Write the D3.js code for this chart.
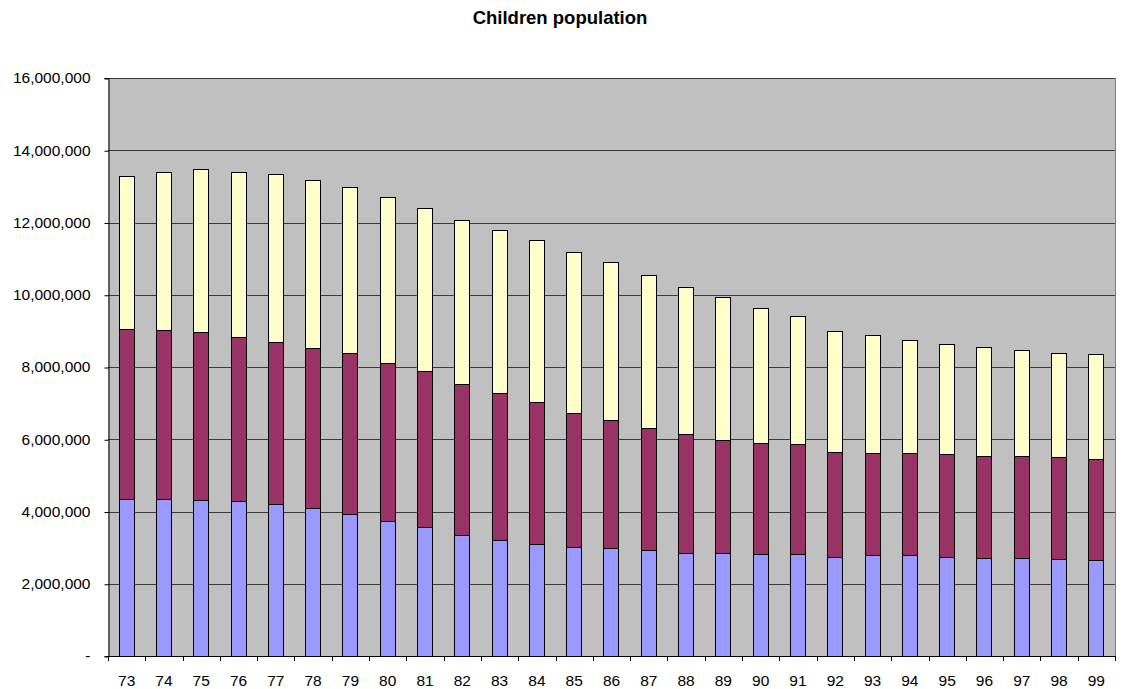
<!DOCTYPE html>
<html>
<head>
<meta charset="utf-8">
<script src="https://cdn.jsdelivr.net/npm/d3@7"></script>
<style>
  html, body { margin: 0; padding: 0; background: #ffffff; }
  svg { display: block; font-family: "Liberation Sans", Arial, sans-serif; }
</style>
</head>
<body>
<svg id="chart" width="1123" height="689"></svg>
<script>
// Years (two-digit labels along the category axis)
const years = ["73","74","75","76","77","78","79","80","81","82","83","84","85","86",
               "87","88","89","90","91","92","93","94","95","96","97","98","99"];

// Stacked series, bottom to top
const lowerGroup = [4350000,4350000,4310000,4280000,4200000,4100000,3930000,3740000,3570000,
                    3340000,3220000,3110000,3030000,3000000,2930000,2860000,2860000,2830000,
                    2820000,2750000,2800000,2800000,2750000,2710000,2710000,2680000,2650000];
const middleGroup = [4710000,4680000,4660000,4540000,4480000,4430000,4450000,4380000,4330000,
                     4190000,4050000,3910000,3710000,3530000,3380000,3280000,3120000,3060000,
                     3040000,2890000,2810000,2810000,2830000,2830000,2830000,2820000,2810000];
const upperGroup = [4240000,4370000,4510000,4580000,4660000,4660000,4600000,4580000,4510000,
                    4540000,4520000,4490000,4450000,4380000,4230000,4080000,3950000,3730000,
                    3550000,3350000,3270000,3140000,3060000,3000000,2930000,2900000,2900000];

const seriesKeys = ["lower", "middle", "upper"];
const seriesColors = { lower: "#9999FF", middle: "#993366", upper: "#FFFFCC" };
const yTicks = [0,2000000,4000000,6000000,8000000,10000000,12000000,14000000,16000000];
const chartTitle = "Children population";

const table = years.map((y, i) => ({
  year: y, lower: lowerGroup[i], middle: middleGroup[i], upper: upperGroup[i]
}));

const svg = d3.select("#chart");
const plot = { left: 108, right: 1115, top: 78, bottom: 656 };

const x = d3.scaleBand()
  .domain(years)
  .range([plot.left, plot.right])
  .paddingInner(0.57)
  .paddingOuter(0.285);

const y = d3.scaleLinear()
  .domain([0, 16000000])
  .range([plot.bottom, plot.top]);

// plot background
svg.append("rect")
  .attr("x", plot.left).attr("y", plot.top)
  .attr("width", plot.right - plot.left).attr("height", plot.bottom - plot.top)
  .attr("fill", "#C0C0C0");

// horizontal gridlines
svg.append("g")
  .selectAll("line")
  .data(yTicks.filter(t => t > 0))
  .join("line")
  .attr("x1", plot.left).attr("x2", plot.right)
  .attr("y1", d => Math.round(y(d)) + 0.5).attr("y2", d => Math.round(y(d)) + 0.5)
  .attr("stroke", "#3a3a3a").attr("stroke-width", 1);

// right border of plot area
svg.append("line")
  .attr("x1", plot.right + 0.5).attr("x2", plot.right + 0.5)
  .attr("y1", plot.top).attr("y2", plot.bottom)
  .attr("stroke", "#808080");

// stacked bars
const stacked = d3.stack().keys(seriesKeys)(table);
svg.append("g")
  .selectAll("g")
  .data(stacked)
  .join("g")
  .attr("fill", d => seriesColors[d.key])
  .selectAll("rect")
  .data(d => d)
  .join("rect")
  .attr("x", d => Math.round(x(d.data.year)) + 0.5)
  .attr("width", Math.round(x.bandwidth()) - 1)
  .attr("y", d => Math.round(y(d[1])) + 0.5)
  .attr("height", d => Math.round(y(d[0])) - Math.round(y(d[1])))
  .attr("stroke", "#000").attr("stroke-width", 1);

// y axis
const yAxis = d3.axisLeft(y)
  .tickValues(yTicks)
  .tickSize(4)
  .tickPadding(14)
  .tickFormat(d => d === 0 ? "-" : d3.format(",")(d));
const gy = svg.append("g")
  .attr("transform", `translate(${plot.left + 0.5},0)`)
  .call(yAxis);
gy.select(".domain").attr("stroke", "#000");
gy.selectAll(".tick line").attr("stroke", "#000")
  .attr("transform", "translate(0,0.5)");
gy.selectAll(".tick text")
  .attr("font-size", "15.5px").attr("fill", "#000")
  .attr("font-family", "'Liberation Sans', Arial, sans-serif");

// x axis (tick marks sit between categories)
const step = x.step();
const boundaries = d3.range(years.length + 1).map(i => plot.left + i * step);
const gx = svg.append("g");
gx.append("line")
  .attr("x1", plot.left).attr("x2", plot.right + 1)
  .attr("y1", plot.bottom + 0.5).attr("y2", plot.bottom + 0.5)
  .attr("stroke", "#000");
gx.selectAll("line.tick")
  .data(boundaries)
  .join("line")
  .attr("class", "tick")
  .attr("x1", d => Math.round(d) + 0.5).attr("x2", d => Math.round(d) + 0.5)
  .attr("y1", plot.bottom).attr("y2", plot.bottom + 5)
  .attr("stroke", "#000");
gx.selectAll("text")
  .data(years)
  .join("text")
  .attr("x", d => x(d) + x.bandwidth() / 2)
  .attr("y", 686)
  .attr("text-anchor", "middle")
  .attr("font-size", "15.5px")
  .attr("fill", "#000")
  .text(d => d);

// title
svg.append("text")
  .attr("x", 560).attr("y", 24)
  .attr("text-anchor", "middle")
  .attr("font-size", "18.5px")
  .attr("font-weight", "bold")
  .attr("fill", "#000")
  .text(chartTitle);
</script>
</body>
</html>
